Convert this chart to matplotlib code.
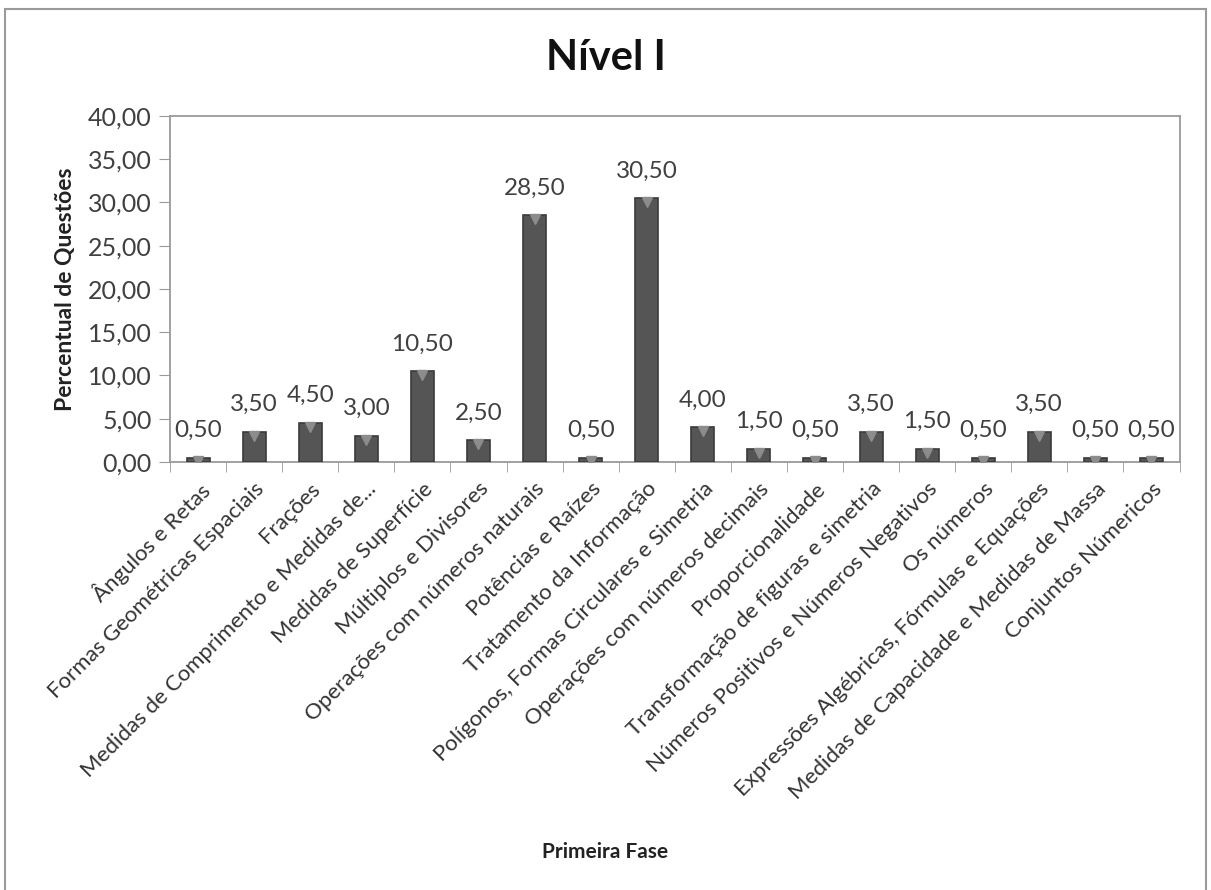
import matplotlib.pyplot as plt
from matplotlib.patches import Rectangle

categories = [
    "Ângulos e Retas",
    "Formas Geométricas Espaciais",
    "Frações",
    "Medidas de Comprimento e Medidas de...",
    "Medidas de Superfície",
    "Múltiplos e Divisores",
    "Operações com números naturais",
    "Potências e Raízes",
    "Tratamento da Informação",
    "Polígonos, Formas Circulares e Simetria",
    "Operações com números decimais",
    "Proporcionalidade",
    "Transformação de figuras e simetria",
    "Números Positivos e Números Negativos",
    "Os números",
    "Expressões Algébricas, Fórmulas e Equações",
    "Medidas de Capacidade e Medidas de Massa",
    "Conjuntos Númericos",
]
percentuais = [0.5, 3.5, 4.5, 3.0, 10.5, 2.5, 28.5, 0.5, 30.5,
               4.0, 1.5, 0.5, 3.5, 1.5, 0.5, 3.5, 0.5, 0.5]
y_ticks = [0, 5, 10, 15, 20, 25, 30, 35, 40]

plt.rcParams["font.family"] = ["Lato", "DejaVu Sans"]


def fmt(v):
    return f"{v:.2f}".replace(".", ",")


fig = plt.figure(figsize=(12.11, 8.90), dpi=100)
ax = fig.add_axes([0.1404, 0.481, 0.8336, 0.3887])

x = list(range(len(categories)))
ax.bar(x, percentuais, width=0.41, color="#555555", edgecolor="#3a3a3a",
       linewidth=1.2, zorder=3)
# lighter cap on top of each column
ax.plot(x, [v - 0.45 for v in percentuais], linestyle="none", marker="v",
        markersize=7, color="#8c8c8c", zorder=4)

for xi, v in zip(x, percentuais):
    ax.annotate(fmt(v), (xi, v), xytext=(0, 12), textcoords="offset points",
                ha="center", va="bottom", fontsize=17.5, color="#404040")

ax.set_xlim(-0.5, len(categories) - 0.5)
ax.set_ylim(0, 40)
ax.set_yticks(y_ticks)
ax.set_yticklabels([fmt(t) for t in y_ticks], fontsize=18, color="#404040")

# ticks between categories
ax.set_xticks([i + 0.5 for i in range(-1, len(categories))], minor=True)
ax.set_xticks(x)
ax.set_xticklabels(categories, rotation=45, ha="right",
                   rotation_mode="anchor", fontsize=16, color="#333333")
ax.tick_params(axis="x", which="major", length=0, pad=12)
ax.tick_params(axis="x", which="minor", length=7, color="#9a9a9a")
ax.tick_params(axis="y", length=8, color="#9a9a9a", pad=5)

for spine in ax.spines.values():
    spine.set_color("#9a9a9a")
    spine.set_linewidth(1.3)

ax.set_ylabel("Percentual de Questões", fontsize=16.5, fontweight="bold",
              color="#222222", labelpad=9)
fig.text(0.5, 0.043, "Primeira Fase", ha="center", va="center",
         fontsize=15, fontweight="bold", color="#222222")
fig.text(0.5, 0.935, "Nível I", ha="center", va="center",
         fontsize=30, fontweight="bold", color="#111111")

fig.patches.append(Rectangle((0.004, -0.01), 0.992, 1.0, transform=fig.transFigure,
                             fill=False, edgecolor="#9a9a9a", linewidth=1.5))

fig.savefig("out.png", dpi=100)
